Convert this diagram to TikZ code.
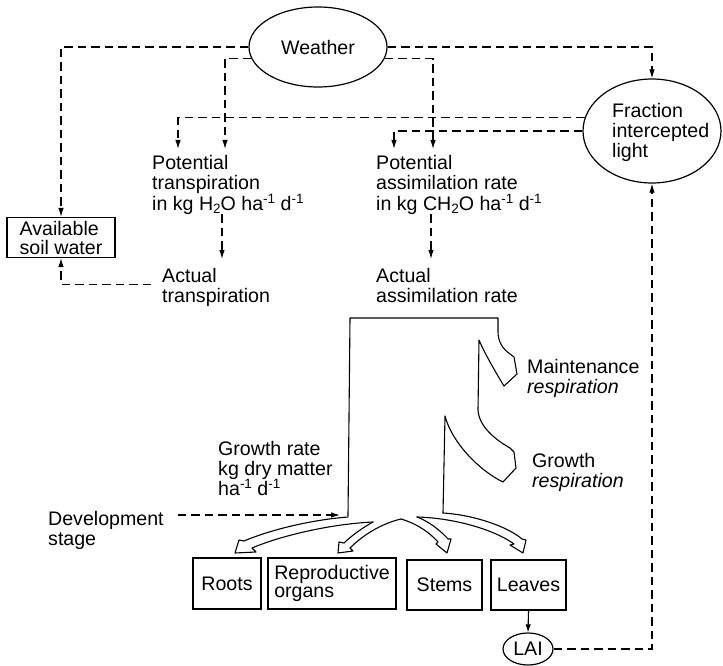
\documentclass[tikz,border=0pt]{standalone}
\usepackage{fontspec}
\setmainfont{Liberation Sans}
\usetikzlibrary{arrows.meta,shapes.geometric,calc}
\newcommand\mysup[1]{\raisebox{0.33em}{\fontsize{13.5}{13.5}\selectfont #1}}
\newcommand\mysub[1]{\raisebox{-0.2em}{\fontsize{13.5}{13.5}\selectfont #1}}
\begin{document}
\begin{tikzpicture}[x=1pt,y=-1pt,
  every node/.style={font=\fontsize{19.6}{20}\selectfont},
  lbl/.style={anchor=north west, inner sep=0pt, align=left},
  dline/.style={line width=1.1pt, dash pattern=on 8.5pt off 5pt},
  dconn/.style={dline, -{Latex[length=9pt,width=5.5pt]}},
  sconn/.style={line width=1.1pt, -{Latex[length=8pt,width=5.5pt]}},
  box/.style={draw, line width=1.2pt, rectangle, inner sep=2pt},
  ell/.style={draw, line width=1.2pt, ellipse, inner sep=0pt},
  flow/.style={line width=1.1pt, line join=round, line cap=round}]
\path[fill=white, use as bounding box] (0,0) rectangle (723,666);

% ---- nodes ----
\node[ell, minimum width=138pt, minimum height=80pt] (weather) at (318,47) {Weather};
\node[ell, minimum width=138pt, minimum height=104pt] (fraction) at (652,131) {};
\node[lbl] (fractxt) at (612,103) {Fraction\\intercepted\\light};
\node[box, minimum width=108pt, minimum height=40pt, align=left, inner sep=0.5pt,
      font=\fontsize{19.6}{19}\selectfont] (soil) at (61,237.5) {Available\\soil water};

\node[lbl, font=\fontsize{19.6}{20.3}\selectfont] (pt) at (152,155) {Potential\\transpiration\\in kg H\mysub{2}O ha\mysup{-1} d\mysup{-1}};
\node[lbl, font=\fontsize{19.6}{20.3}\selectfont] (pa) at (376,155) {Potential\\assimilation rate\\in kg CH\mysub{2}O ha\mysup{-1} d\mysup{-1}};
\node[lbl] (at) at (162,268) {Actual\\transpiration};
\node[lbl] (aa) at (376,268) {Actual\\assimilation rate};

\node[lbl] (maint) at (527,359) {Maintenance\\\textit{respiration}};
\node[lbl] (gresp) at (532,453) {Growth\\\textit{respiration}};
\node[lbl] (grate) at (218,441) {Growth rate\\kg dry matter\\ha\mysup{-1} d\mysup{-1}};
\node[lbl] (dev) at (48,511) {Development\\stage};

\node[box, minimum width=68pt, minimum height=51pt] (roots) at (227,583.5) {Roots};
\node[box, minimum width=128pt, minimum height=51pt, align=left,
      font=\fontsize{19.6}{18}\selectfont] (repro) at (332,583.5) {Reproductive\\organs};
\node[box, minimum width=75pt, minimum height=50pt] (stems) at (444.5,585) {Stems};
\node[box, minimum width=75pt, minimum height=50pt] (leaves) at (528.5,585) {Leaves};
\node[ell, minimum width=50pt, minimum height=32pt] (lai) at (528,649) {LAI};

% ---- arrow end points ----
\coordinate (ptA) at (225,149);
\coordinate (ptB) at (178,149);
\coordinate (paA) at (394,149);
\coordinate (paB) at (433,149);
\coordinate (atA) at (222,259);
\coordinate (aaA) at (431,259);
\coordinate (devT) at (340,515);

% ---- dashed connectors ----
\draw[dconn] (weather.west) -| (soil.north);
\draw[dconn] (weather.190) -| (ptA);
\draw[dconn] (fraction.169) -| (ptB);
\draw[dconn] (fraction.west) -| (paA);
\draw[dconn] (weather.350) -| (paB);
\draw[dconn] (weather.east) -| (fraction.north);
\draw[dline] ($(soil.east)+(0,-6.5)$) -- ($(soil.east)+(0,-6.5)$ -| aaA);
\draw[dconn] (pt.south -| atA) -- (atA);
\draw[dconn] (pa.south -| aaA) -- (aaA);
\draw[dconn] ($(at.west)+(-11,-3)$) -| (soil.south);
\draw[dconn] ($(dev.north east)+(14,4)$) -- (devT);
\draw[dconn] (lai.east) -| (fraction.south);
\draw[sconn] (leaves.south) -- (lai.north);

% ---- main stream with respiration losses ----
\draw[flow] (348,516) -- (350,318) -- (498,318) -- (498,332)
  .. controls (498,342) and (503,349) .. (510,354) -- (514,357) -- (517,374) -- (504,386)
  .. controls (496,373) and (485,354) .. (479,340) -- (478,410)
  .. controls (479,427) and (496,440) .. (510,448) -- (514,452) -- (516,468) -- (503,482)
  .. controls (480,471) and (452,443) .. (445,416) -- (443,513);

% ---- allocation arrows ----
\draw[flow] (348,517) .. controls (310,520) and (270,530) .. (244,541)
  -- (239,540) -- (235,553) -- (256,552) -- (252,548)
  .. controls (280,536) and (330,524) .. (373,522);
\draw[flow] (373,522) .. controls (362,528) and (350,537) .. (344,543)
  -- (339,542) -- (338,553) -- (353,551) -- (350,548)
  .. controls (362,536) and (380,524) .. (401,519);
\draw[flow] (401,519) .. controls (418,524) and (430,533) .. (438,542)
  -- (436,544) -- (447,553) -- (451,539) -- (448,539)
  .. controls (440,530) and (428,521) .. (417,517);
\draw[flow] (417,517) .. controls (455,518) and (495,530) .. (514,544)
  -- (510,545) -- (523,553) -- (526,540) -- (522,539)
  .. controls (508,527) and (475,515) .. (443,513);
\end{tikzpicture}
\end{document}
